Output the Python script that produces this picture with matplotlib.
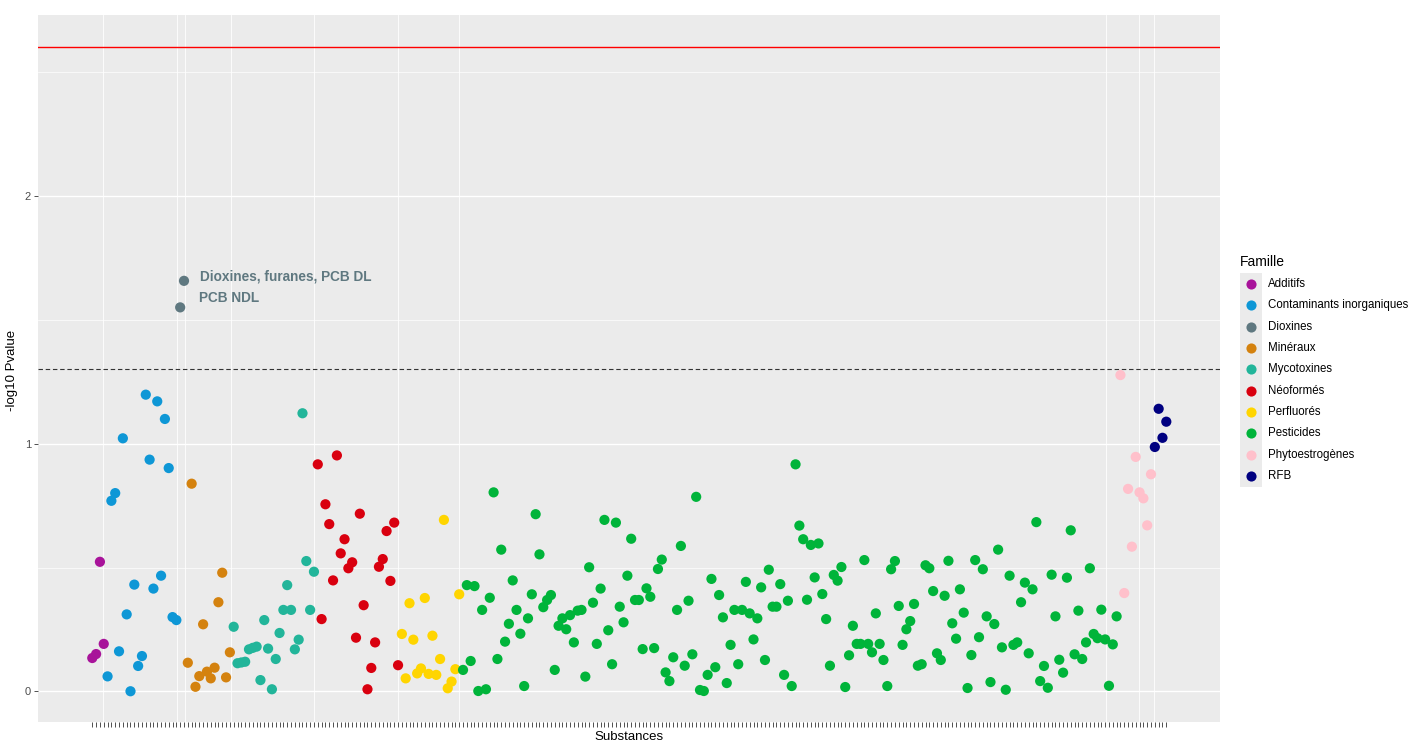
import matplotlib
matplotlib.use("Agg")
import matplotlib.pyplot as plt
from matplotlib.lines import Line2D
from matplotlib.patches import Rectangle
import numpy as np

plt.rcParams['font.family'] = ['Liberation Sans', 'DejaVu Sans']

# ---------------- data ----------------
families = ["Additifs", "Contaminants inorganiques", "Dioxines", "Minéraux",
            "Mycotoxines", "Néoformés", "Perfluorés", "Pesticides",
            "Phytoestrogènes", "RFB"]
family_colors = ["#A8139A", "#0E97D6", "#5F7880", "#D4820F", "#22B59A",
                 "#D9000F", "#FFD500", "#00B43A", "#FFC0CB", "#000080"]

additifs = [0.135, 0.151, 0.523, 0.192]
contaminants = [0.061, 0.769, 0.800, 0.162, 1.021, 0.311, 0.001, 0.431, 0.103,
                0.143, 1.197, 0.935, 0.415, 1.170, 0.467, 1.099, 0.901, 0.300,
                0.288]
dioxines = [1.549, 1.656]
dioxines_labels = ["PCB NDL", "Dioxines, furanes, PCB DL"]
mineraux = [0.116, 0.838, 0.019, 0.062, 0.271, 0.080, 0.053, 0.096, 0.360,
            0.479, 0.057, 0.158]
mycotoxines = [0.261, 0.114, 0.117, 0.120, 0.170, 0.176, 0.181, 0.046, 0.288,
               0.173, 0.009, 0.131, 0.236, 0.329, 0.429, 0.329, 0.170, 0.209,
               1.122, 0.526, 0.329, 0.483]
neoformes = [0.916, 0.292, 0.755, 0.675, 0.448, 0.952, 0.557, 0.614, 0.497,
             0.521, 0.217, 0.717, 0.348, 0.009, 0.095, 0.198, 0.503, 0.534,
             0.647, 0.446, 0.681, 0.106]
perfluores = [0.232, 0.053, 0.356, 0.209, 0.073, 0.093, 0.377, 0.071, 0.225,
              0.067, 0.131, 0.692, 0.013, 0.040, 0.090, 0.392]
pesticides = [
    0.087, 0.429, 0.123, 0.425, 0.002, 0.329, 0.009, 0.378, 0.803, 0.131,
    0.572, 0.201, 0.273, 0.448, 0.329, 0.233, 0.022, 0.295, 0.392, 0.715,
    0.553, 0.340, 0.369, 0.389, 0.087, 0.265, 0.295, 0.251, 0.308, 0.198,
    0.326, 0.329, 0.060, 0.501, 0.358, 0.192, 0.415, 0.692, 0.247,
    0.110, 0.681, 0.342, 0.279, 0.467, 0.616, 0.369, 0.369, 0.171, 0.416,
    0.382, 0.175, 0.494, 0.532, 0.077, 0.042, 0.138, 0.329, 0.587, 0.104,
    0.366, 0.150, 0.785, 0.006, 0.002, 0.067, 0.454, 0.098, 0.389, 0.299,
    0.034, 0.188, 0.329, 0.110, 0.329, 0.442, 0.315, 0.210, 0.295, 0.420,
    0.127, 0.491, 0.342, 0.342, 0.433,
    0.067, 0.366, 0.022, 0.916, 0.669, 0.614, 0.370, 0.591, 0.460, 0.597,
    0.393, 0.292, 0.104, 0.470, 0.447, 0.502, 0.018, 0.146, 0.265, 0.192,
    0.192, 0.530, 0.192, 0.158, 0.315, 0.192, 0.127, 0.022, 0.493, 0.526,
    0.345, 0.188, 0.251, 0.284, 0.353, 0.104, 0.110, 0.509, 0.497, 0.405,
    0.154, 0.127, 0.386, 0.527, 0.275, 0.213, 0.412,
    0.318, 0.014, 0.147, 0.530, 0.219, 0.493, 0.303, 0.038, 0.272, 0.572,
    0.178, 0.007, 0.467, 0.188, 0.198, 0.360, 0.439, 0.154, 0.412, 0.683,
    0.042, 0.103, 0.015, 0.471, 0.303, 0.128, 0.076, 0.459, 0.650, 0.150,
    0.326, 0.131, 0.198, 0.497, 0.232, 0.215, 0.330, 0.210, 0.023, 0.190,
    0.303]
phytoestrogenes = [1.276, 0.397, 0.817, 0.584, 0.946, 0.803, 0.779, 0.670, 0.876]
rfb = [0.986, 1.140, 1.023, 1.088]

values_by_family = [additifs, contaminants, dioxines, mineraux, mycotoxines,
                    neoformes, perfluores, pesticides, phytoestrogenes, rfb]

alpha = 0.05
bonferroni_line = 2.60
vgrid_positions = [2.88, 22.08, 24.25, 36.21, 57.93, 80.06, 96.02,
                   265.15, 273.94, 277.86]

# ---------------- figure ----------------
W, H = 1410, 742
fig = plt.figure(figsize=(W / 100, H / 100), dpi=100)


def fx(px):
    return px / W


def fy(py):
    return 1 - py / H


ax = fig.add_axes([fx(38), fy(722), fx(1220) - fx(38), fy(15) - fy(722)])
ax.set_facecolor('#EBEBEB')
for s in ax.spines.values():
    s.set_visible(False)

start = 0
dioxin_x = None
for fam, col, vals in zip(families, family_colors, values_by_family):
    xs = np.arange(start, start + len(vals))
    ax.scatter(xs, vals, s=54, color=col, edgecolors='none', zorder=3)
    if fam == "Dioxines":
        dioxin_x = xs
    start += len(vals)
n = start

ax.set_xlim(-14.2, 295.05)
ax.set_ylim(-0.123, 2.728)
ax.set_xticks(np.arange(n))
ax.set_xticklabels([])
ax.set_yticks([0, 1, 2])
ax.set_yticklabels(['0', '1', '2'])
ax.set_yticks([0.5, 1.5, 2.5], minor=True)
ax.tick_params(axis='x', length=3.5, width=0.6, color='#333333')
ax.tick_params(axis='y', which='major', length=3, width=0.6, color='#333333',
               labelsize=8, labelcolor='#4D4D4D', pad=2)
ax.tick_params(axis='y', which='minor', length=0)
ax.grid(axis='y', which='major', color='white', lw=1.0)
ax.grid(axis='y', which='minor', color='white', lw=0.5)
ax.set_axisbelow(True)
for v in vgrid_positions:
    ax.axvline(v, color='white', lw=0.6, zorder=0.5)

ax.axhline(bonferroni_line, color='#FF0000', lw=1.0, zorder=2.5)
ax.axhline(-np.log10(alpha), color='#333333', lw=0.8, ls=(0, (4, 2.5)), zorder=2)

# labels for dioxines points
label_offsets = [(5.0, 0.039), (4.2, 0.017)]
for xv, yv, lab, (dx, dy) in zip(dioxin_x, dioxines, dioxines_labels, label_offsets):
    ax.text(xv + dx, yv + dy, lab, ha='left', va='center', fontsize=9.8,
            fontweight='bold', color='#5F7880', zorder=4)

fig.text(fx(12), fy(370), '-log10 Pvalue', rotation=90, ha='center',
         va='center', fontsize=9.5)
fig.text(fx(629), fy(737), 'Substances', ha='center', va='center',
         fontsize=9.5)

# legend (ggplot-like)
fig.text(fx(1240), fy(261.5), 'Famille', ha='left', va='center', fontsize=10)
key_top, key_h = 273.3, 21.33
fig.patches.append(Rectangle((fx(1240), fy(key_top + key_h * len(families))),
                             fx(1262) - fx(1240), key_h * len(families) / H,
                             transform=fig.transFigure, facecolor='#EBEBEB',
                             edgecolor='none', zorder=0))
for i, (fam, col) in enumerate(zip(families, family_colors)):
    yc = key_top + key_h * (i + 0.5)
    fig.add_artist(Line2D([fx(1251)], [fy(yc)], marker='o', ls='',
                          markersize=7.3, color=col, markeredgewidth=0,
                          transform=fig.transFigure))
    fig.text(fx(1268), fy(yc), fam, ha='left', va='center', fontsize=8.3,
             color='black')

fig.savefig('out.png', dpi=100)
